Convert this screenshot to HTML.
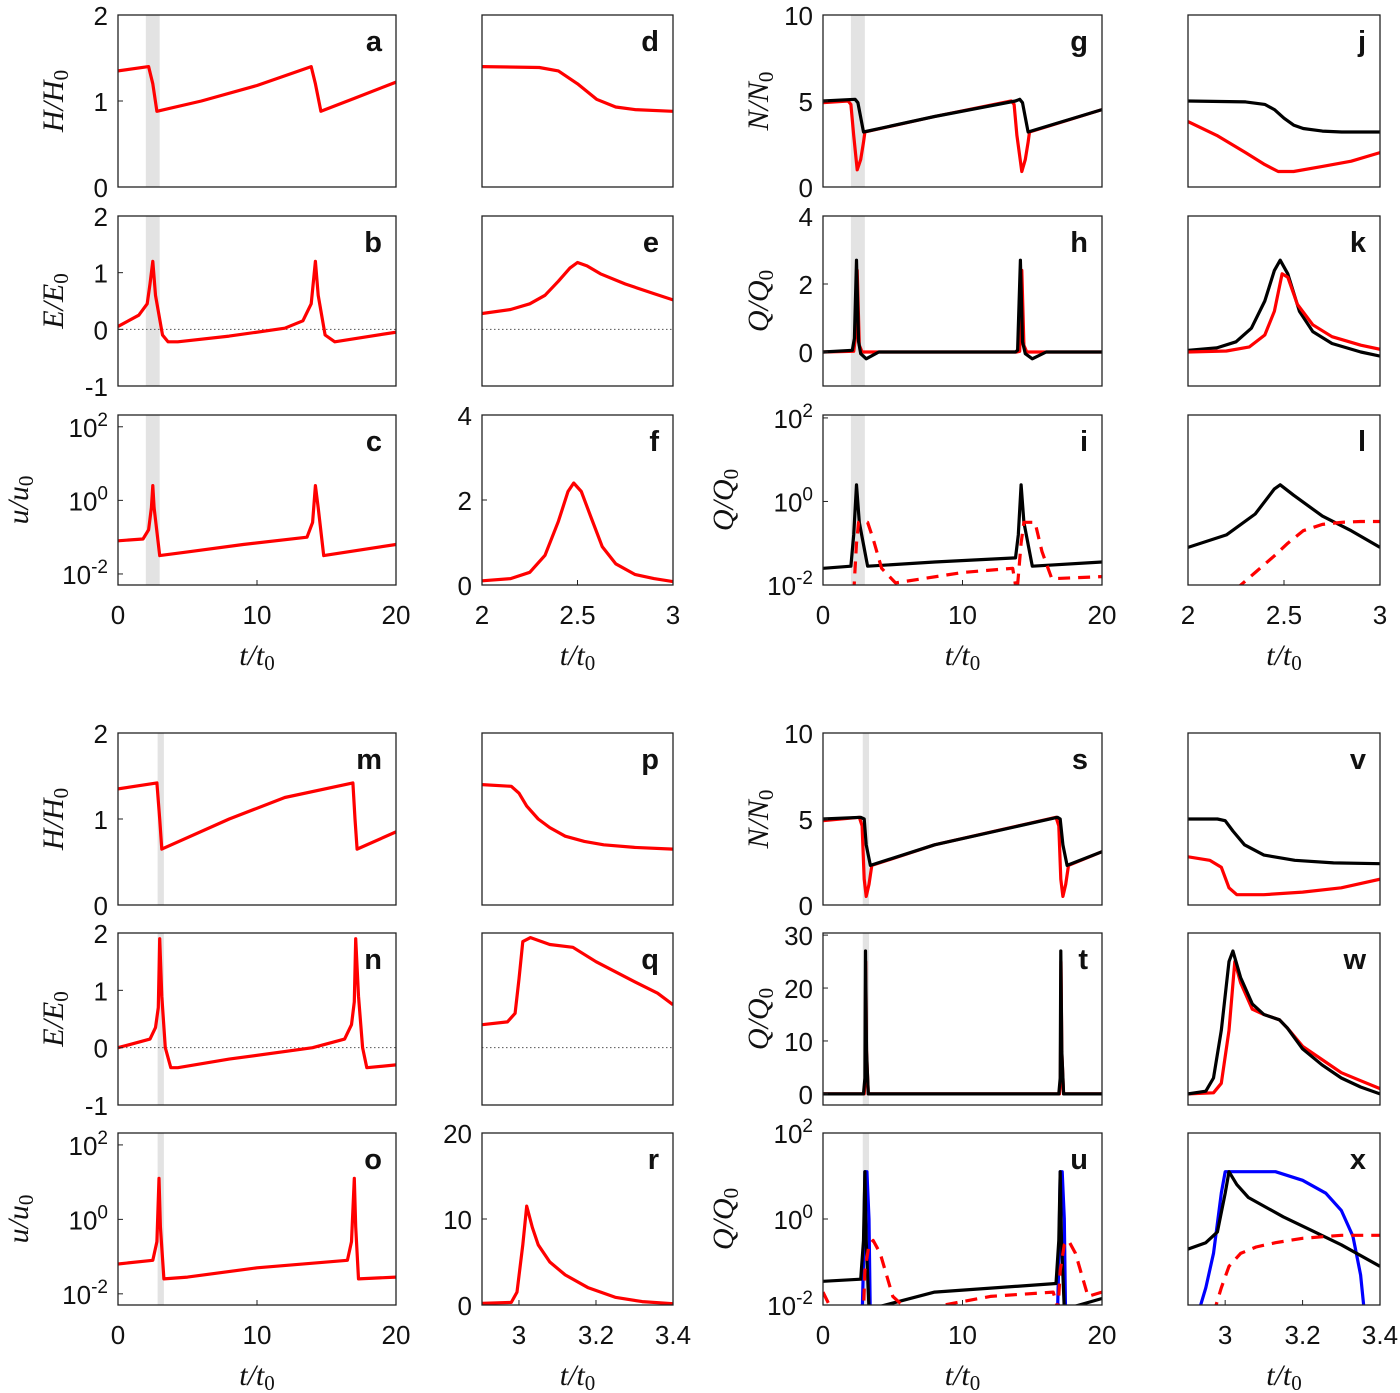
<!DOCTYPE html>
<html><head><meta charset="utf-8"><style>
body{margin:0;background:#fff}
svg{display:block}
text{font-family:"Liberation Sans",sans-serif;fill:#111}
.lab{font-family:"Liberation Serif",serif;font-style:italic;font-size:30px}
</style></head><body>
<svg id="fig" width="1400" height="1393" viewBox="0 0 1400 1393"></svg>
<script>
// ---- data arrays (t values, y values; log panels store log10 values) ----
const aT=[0,2.2,2.5,2.8,6,10,13.9,14.2,14.6,17,20], aY=[1.35,1.4,1.2,0.88,1.0,1.18,1.4,1.2,0.88,1.03,1.22];
const dT=[2,2.3,2.4,2.5,2.6,2.7,2.8,3], dY=[1.4,1.39,1.35,1.2,1.02,0.93,0.9,0.88];
const bT=[0,1.5,2.1,2.3,2.5,2.7,3.2,3.6,4.3,8,12,13.3,13.9,14.2,14.4,14.9,15.6,20], bY=[0.05,0.25,0.45,0.8,1.2,0.6,-0.1,-0.22,-0.22,-0.12,0.02,0.15,0.45,1.2,0.6,-0.1,-0.22,-0.05];
const eT=[2,2.15,2.25,2.33,2.4,2.46,2.5,2.55,2.62,2.75,2.9,3], eY=[0.28,0.35,0.45,0.6,0.85,1.08,1.18,1.12,0.98,0.8,0.63,0.52];
const cT=[0,1.8,2.2,2.4,2.5,2.6,3,5,9,13.6,14.0,14.2,14.4,14.8,20], cY=[-1.1,-1.05,-0.8,-0.2,0.4,-0.2,-1.5,-1.4,-1.2,-1.0,-0.6,0.4,-0.2,-1.5,-1.2];
const fT=[2,2.15,2.25,2.33,2.4,2.45,2.48,2.52,2.57,2.63,2.7,2.8,2.9,3], fY=[0.1,0.15,0.3,0.7,1.5,2.2,2.4,2.2,1.6,0.9,0.5,0.25,0.15,0.08];
const gT=[0,2.3,2.5,2.9,8,13.8,14.1,14.3,14.7,20], gY=[5,5.1,4.9,3.2,4.1,5,5.1,4.9,3.2,4.5];
const gRT=[0,1.8,2.0,2.2,2.45,2.7,2.9,3.0,8,13.5,13.7,13.9,14.25,14.5,14.7,14.8,20], gRY=[4.9,5.0,4.8,3.0,1.0,1.6,2.6,3.2,4.1,5.0,4.8,3.0,0.9,1.6,2.6,3.2,4.5];
const jT=[2,2.3,2.4,2.45,2.5,2.55,2.6,2.7,2.8,3], jY=[5,4.95,4.8,4.5,4.0,3.6,3.4,3.25,3.2,3.2];
const jRT=[2,2.15,2.3,2.4,2.47,2.55,2.7,2.85,3], jRY=[3.8,3.0,2.0,1.3,0.9,0.9,1.2,1.5,2.0];
const hT=[0,2.1,2.25,2.4,2.55,2.7,3.1,4,13.8,13.95,14.15,14.3,14.5,15,16,20], hY=[0,0.05,0.4,2.7,0.3,-0.05,-0.2,0,0,0.05,2.7,0.3,-0.05,-0.2,0,0];
const hRT=[0,2.2,2.35,2.45,2.6,2.8,13.9,14.1,14.25,14.4,14.6,20], hRY=[0,0.02,0.5,2.4,0.2,0,0,0.02,2.4,0.2,0,0];
const kT=[2,2.15,2.25,2.33,2.4,2.45,2.48,2.52,2.58,2.65,2.75,2.9,3], kY=[0.05,0.12,0.3,0.7,1.5,2.4,2.7,2.3,1.2,0.6,0.25,0,-0.12];
const kRT=[2,2.2,2.32,2.4,2.45,2.49,2.52,2.57,2.65,2.75,2.9,3], kRY=[0,0.03,0.15,0.5,1.2,2.3,2.2,1.4,0.8,0.45,0.2,0.08];
const iT=[0,2,2.2,2.4,2.6,3.2,8,13.8,14.0,14.2,14.4,15,20], iY=[-1.6,-1.55,-0.8,0.4,-0.5,-1.55,-1.45,-1.35,-0.8,0.4,-0.5,-1.55,-1.45];
const iRT=[2.2,2.4,2.55,3.2,3.6,4.2,5.2,10,13.6,13.9,14.2,14.4,15.2,15.7,16.4,20], iRY=[-2.2,-1,-0.5,-0.5,-0.9,-1.6,-1.95,-1.7,-1.6,-2.2,-1,-0.5,-0.5,-1.2,-1.85,-1.8];
const lT=[2,2.2,2.35,2.45,2.48,2.55,2.7,2.85,3], lY=[-1.1,-0.8,-0.3,0.3,0.4,0.15,-0.35,-0.7,-1.1];
const lRT=[2.25,2.35,2.45,2.52,2.6,2.7,2.8,2.9,3], lRY=[-2.1,-1.7,-1.3,-1.0,-0.7,-0.55,-0.5,-0.48,-0.48];
const mT=[0,2.8,3.0,3.15,8,12,16.9,17.05,17.2,20], mY=[1.35,1.42,1.0,0.65,1.0,1.25,1.42,1.0,0.65,0.85];
const pT=[2.904,2.98,3.0,3.02,3.05,3.08,3.12,3.17,3.22,3.3,3.4], pY=[1.4,1.38,1.3,1.15,1.0,0.9,0.8,0.74,0.7,0.67,0.65];
const nT=[0,2.3,2.7,2.9,3.0,3.15,3.4,3.8,4.3,8,14,16.3,16.8,17.0,17.1,17.3,17.6,17.9,20], nY=[0,0.15,0.35,0.7,1.9,0.9,0,-0.35,-0.35,-0.2,0,0.15,0.4,0.8,1.9,0.9,0,-0.35,-0.3];
const qT=[2.904,2.97,2.99,3.0,3.01,3.03,3.08,3.14,3.2,3.3,3.36,3.4], qY=[0.4,0.45,0.6,1.2,1.85,1.92,1.8,1.75,1.5,1.15,0.95,0.75];
const oT=[0,2.5,2.8,2.95,3.05,3.3,5,10,16.5,16.8,17.0,17.1,17.3,20], oY=[-1.2,-1.1,-0.6,1.1,-0.2,-1.6,-1.55,-1.3,-1.1,-0.6,1.1,-0.2,-1.6,-1.55];
const rT=[2.904,2.98,2.995,3.01,3.02,3.035,3.05,3.08,3.12,3.18,3.25,3.32,3.4], rY=[0.2,0.3,1.5,7,11.5,9,7,5,3.5,2,0.9,0.4,0.15];
const sT=[0,2.7,2.95,3.1,3.4,8,16.8,17.0,17.2,17.5,20], sY=[5,5.1,5.0,3.5,2.3,3.5,5.1,5.0,3.5,2.3,3.1];
const sRT=[0,2.6,2.8,2.95,3.1,3.3,3.5,8,16.7,16.9,17.05,17.2,17.4,17.6,20], sRY=[4.9,5.1,4.6,1.5,0.5,1.2,2.3,3.5,5.1,4.6,1.5,0.5,1.2,2.3,3.1];
const vT=[2.904,2.98,3.0,3.02,3.05,3.1,3.18,3.28,3.4], vY=[5,5,4.9,4.3,3.5,2.9,2.6,2.45,2.4];
const vRT=[2.904,2.96,2.99,3.01,3.03,3.1,3.2,3.3,3.4], vRY=[2.8,2.6,2.2,1.0,0.6,0.6,0.75,1.0,1.5];
const tT=[0,2.9,3.0,3.05,3.12,3.25,16.9,17.0,17.05,17.12,17.25,20], tY=[0,0,3,27,8,0,0,3,27,8,0,0];
const tRT=[0,2.95,3.02,3.06,3.12,3.25,16.95,17.02,17.06,17.12,17.25,20], tRY=[0,0,2,25,8,0,0,2,25,8,0,0];
const wT=[2.904,2.95,2.97,2.99,3.01,3.02,3.04,3.07,3.1,3.14,3.16,3.2,3.25,3.3,3.35,3.4], wY=[0,0.5,3,12,25,27,22,17,15,14,12.5,8.5,5.5,3,1.3,0];
const wRT=[2.904,2.97,2.99,3.01,3.025,3.04,3.07,3.1,3.14,3.16,3.2,3.25,3.3,3.35,3.4], wRY=[0,0.2,2,12,25,21,16,15,14,12.5,9,6.5,4,2.5,1];
const uT=[0,2.7,2.9,3.0,3.1,3.3,8,16.7,16.9,17.0,17.1,17.3,20], uY=[-1.45,-1.4,-0.5,1.1,-0.5,-2.1,-1.7,-1.5,-0.5,1.1,-0.5,-2.1,-1.85];
const uBT=[2.82,2.9,3.0,3.15,3.3,3.38,16.82,16.9,17.0,17.15,17.3,17.38], uBY=[-2.1,-1.0,1.1,1.1,0,-2.1,-2.1,-1.0,1.1,1.1,0,-2.1];
const uRT=[0,0.6,2.9,3.0,3.3,3.6,4.1,5,6,7,12,16.5,16.85,17.0,17.3,17.6,18.1,19,20], uRY=[-1.7,-2.1,-2.1,-1.2,-0.6,-0.5,-0.8,-1.8,-2.1,-2.1,-1.8,-1.7,-2.1,-1.2,-0.6,-0.5,-0.8,-1.8,-1.7];
const xT=[2.904,2.95,2.98,3.0,3.01,3.03,3.06,3.1,3.15,3.22,3.3,3.4], xY=[-0.7,-0.55,-0.3,0.6,1.1,0.8,0.5,0.3,0.05,-0.25,-0.6,-1.1];
const xBT=[2.93,2.95,2.97,2.99,3.0,3.13,3.2,3.26,3.3,3.33,3.35,3.36], xBY=[-2.2,-1.6,-0.8,0.6,1.1,1.1,0.9,0.6,0.2,-0.4,-1.3,-2.2];
const xRT=[2.97,2.99,3.01,3.04,3.08,3.13,3.2,3.3,3.4], xRY=[-2.2,-1.6,-1.1,-0.8,-0.65,-0.55,-0.45,-0.38,-0.38];

const S="http://www.w3.org/2000/svg", svg=document.getElementById('fig');
function mk(tag,at,parent){const e=document.createElementNS(S,tag);for(const k in at)e.setAttribute(k,at[k]);(parent||svg).appendChild(e);return e;}
const COLS=[[118,396],[482,673],[823,1102],[1188,1380]];
const ROWS=[[15,187],[216,386],[415,585],[733,905],[933,1105],[1133,1305]];
const RED='#f00',BLK='#000',BLU='#00f';
const LOGR=[-2.3,2.32], LOGQ=[-2,2.07];
const P=[
['a',0,0,[0,20],[0,2],[0,1,2],0,[2,3],[[aT,aY,RED]],'H','H'],
['d',1,0,[2,3],[0,2],null,0,null,[[dT,dY,RED]]],
['b',0,1,[0,20],[-1,2],[-1,0,1,2],0,[2,3],[[bT,bY,RED]],'E','E',1],
['e',1,1,[2,3],[-1,2],null,0,null,[[eT,eY,RED]],null,null,1],
['c',0,2,[0,20],LOGR,[-2,0,2],1,[2,3],[[cT,cY,RED]],'u','u'],
['f',1,2,[2,3],[0,4],[0,2,4],0,null,[[fT,fY,RED]]],
['g',2,0,[0,20],[0,10],[0,5,10],0,[2,3],[[gRT,gRY,RED],[gT,gY,BLK]],'N','N'],
['j',3,0,[2,3],[0,10],null,0,null,[[jRT,jRY,RED],[jT,jY,BLK]]],
['h',2,1,[0,20],[-1,4],[0,2,4],0,[2,3],[[hRT,hRY,RED],[hT,hY,BLK]],'Q','Q'],
['k',3,1,[2,3],[-1,4],null,0,null,[[kT,kY,BLK],[kRT,kRY,RED]]],
['i',2,2,[0,20],LOGQ,[-2,0,2],1,[2,3],[[iT,iY,BLK],[iRT,iRY,RED,1]],'Q','Q'],
['l',3,2,[2,3],LOGQ,null,1,null,[[lT,lY,BLK],[lRT,lRY,RED,1]]],
['m',0,3,[0,20],[0,2],[0,1,2],0,[2.85,3.3],[[mT,mY,RED]],'H','H'],
['p',1,3,[2.904,3.4],[0,2],null,0,null,[[pT,pY,RED]]],
['n',0,4,[0,20],[-1,2],[-1,0,1,2],0,[2.85,3.3],[[nT,nY,RED]],'E','E',1],
['q',1,4,[2.904,3.4],[-1,2],null,0,null,[[qT,qY,RED]],null,null,1],
['o',0,5,[0,20],LOGR,[-2,0,2],1,[2.85,3.3],[[oT,oY,RED]],'u','u'],
['r',1,5,[2.904,3.4],[0,20],[0,10,20],0,null,[[rT,rY,RED]]],
['s',2,3,[0,20],[0,10],[0,5,10],0,[2.85,3.3],[[sRT,sRY,RED],[sT,sY,BLK]],'N','N'],
['v',3,3,[2.904,3.4],[0,10],null,0,null,[[vRT,vRY,RED],[vT,vY,BLK]]],
['t',2,4,[0,20],[-2.1,30.4],[0,10,20,30],0,[2.85,3.3],[[tRT,tRY,RED],[tT,tY,BLK]],'Q','Q'],
['w',3,4,[2.904,3.4],[-2.1,30.4],null,0,null,[[wRT,wRY,RED],[wT,wY,BLK]]],
['u',2,5,[0,20],[-2,2],[-2,0,2],1,[2.85,3.3],[[uBT,uBY,BLU],[uT,uY,BLK],[uRT,uRY,RED,1]],'Q','Q'],
['x',3,5,[2.904,3.4],[-2,2],null,1,null,[[xBT,xBY,BLU],[xT,xY,BLK],[xRT,xRY,RED,1]]]
];
let cid=0;
P.forEach(p=>{
  const [L,c,r,xr,yr,yt,lg,band,ser,lab]=p, zl=p[11];
  const [x0,x1]=COLS[c],[y0,y1]=ROWS[r];
  const X=t=>x0+(t-xr[0])/(xr[1]-xr[0])*(x1-x0);
  const Y=v=>y1-(v-yr[0])/(yr[1]-yr[0])*(y1-y0);
  const g=mk('g',{});
  
  
  const id='cp'+(cid++);
  const cp=mk('clipPath',{id},g); mk('rect',{x:x0,y:y0,width:x1-x0,height:y1-y0},cp);
  if(band){const b=mk('rect',{x:X(band[0]),y:y0,width:X(band[1])-X(band[0]),height:y1-y0,fill:'#e3e3e3'},g);
    
    }
  if(zl){const z=mk('line',{x1:x0,x2:x1,y1:Y(0),y2:Y(0),stroke:'#555','stroke-width':1,'stroke-dasharray':'1.5 2.5'},g);
    
    }
  ser.forEach((s,k)=>{
    const pts=s[0].map((t,i)=>X(t).toFixed(1)+','+Y(s[1][i]).toFixed(1)).join(' ');
    const pl=mk('polyline',{points:pts,fill:'none',stroke:s[2],'stroke-width':3.2,'stroke-linejoin':'round','clip-path':'url(#'+id+')'},g);
    if(s[3])pl.setAttribute('stroke-dasharray','12 8');
    
    
  });
  const fr=mk('rect',{x:x0,y:y0,width:x1-x0,height:y1-y0,fill:'none',stroke:'#222','stroke-width':1.3},g);
  
  
  const lt=mk('text',{x:x1-14,y:y0+36,'text-anchor':'end','font-size':29,'font-weight':'bold'},g);
  lt.textContent=L;
  
  
  if(yt){yt.forEach(v=>{
    const yy=Y(v);
    mk('line',{x1:x0,x2:x0+5,y1:yy,y2:yy,stroke:'#222','stroke-width':1},g);
    const t=mk('text',{x:x0-10,y:yy+10,'text-anchor':'end','font-size':26},g);
    if(lg){t.textContent='10';const ts=mk('tspan',{dy:-11,'font-size':19},t);ts.textContent=String(v);}
    else t.textContent=String(v);
    
    
  });}
  if(r==2||r==5){
    const xt=xr[1]-xr[0]>5?[0,10,20]:(xr[0]===2?[2,2.5,3]:[3,3.2,3.4]);
    xt.forEach(v=>{const xx=X(v);
      mk('line',{x1:xx,x2:xx,y1:y1,y2:y1-5,stroke:'#222'},g);
      const t=mk('text',{x:xx,y:y1+39,'text-anchor':'middle','font-size':26},g);t.textContent=String(v);
      
      });
    const xl=mk('text',{x:(x0+x1)/2,y:y1+80,'text-anchor':'middle',class:'lab'},g);
    xl.innerHTML='t/t<tspan font-size="21" dy="5" font-style="normal">0</tspan>';
    
    
  }
  if(lab){
    const lx=lg?x0-90:x0-55, ly=(y0+y1)/2;
    const yl=mk('text',{x:lx,y:ly,'text-anchor':'middle',class:'lab',transform:'rotate(-90 '+lx+' '+ly+')'},g);
    yl.innerHTML=lab+'/'+p[10]+'<tspan font-size="21" dy="5" font-style="normal">0</tspan>';
    
    
  }
});
</script>
</body></html>
